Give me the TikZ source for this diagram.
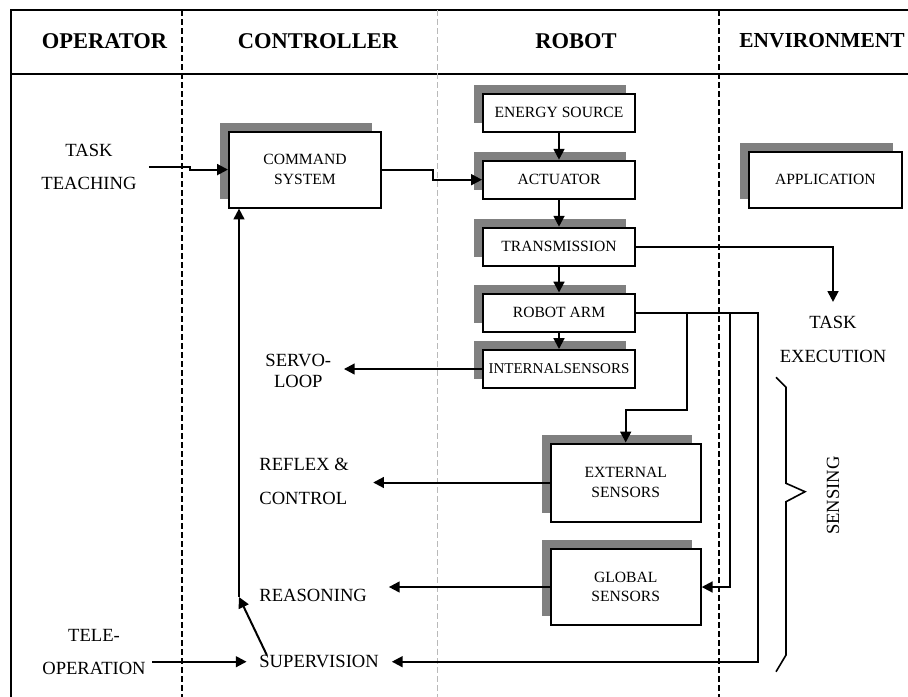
\documentclass[tikz,border=0pt]{standalone}
\usepackage{fontspec}
\setmainfont{Liberation Serif}
\usetikzlibrary{arrows.meta,shadows}
\tikzstyle{block} = [draw, line width=1pt, fill=white, minimum width=76pt, minimum height=19pt, inner sep=0pt, align=center, font=\fontsize{7.8}{9.7}\selectfont, drop shadow={shadow xshift=-4.5pt, shadow yshift=4.5pt, fill=gray, opacity=1}]
\tikzstyle{lbl} = [inner sep=0pt, align=center, font=\fontsize{9.3}{16.5}\selectfont]
\tikzstyle{head} = [font=\fontsize{11.25}{13}\selectfont\bfseries]
\tikzstyle{arr} = [line width=1pt, -{Triangle[length=5.4pt,width=5.4pt]}]
\tikzstyle{lane} = [line width=0.9pt, dash pattern=on 3pt off 1.5pt]

\begin{document}
\begin{tikzpicture}[x=0.5pt, y=-0.5pt]
    \useasboundingbox (0,0) rectangle (908,696);

    % table frame and lanes
    \draw[line width=1.2pt] (11,700) -- (11,10) -- (915,10);
    \draw[line width=1.2pt] (11,74) -- (915,74);
    \draw[lane] (181.7,10) -- (181.7,700);
    \draw[lane, gray!55, line width=0.7pt] (437.5,10) -- (437.5,700);
    \draw[lane] (719.3,10) -- (719.3,700);

    \node[head] (hop) at (104.5,41) {OPERATOR};
    \node[head] (hco) at (318,41) {CONTROLLER};
    \node[head] (hro) at (576,41) {ROBOT};
    \node[head, font=\fontsize{10.7}{13}\selectfont\bfseries] (hen) at (822,41) {ENVIRONMENT};

    % robot blocks
    \node[block] (energy) at (559,112.5) {ENERGY SOURCE};
    \node[block] (act) at (559,179.7) {ACTUATOR};
    \node[block] (trans) at (559,246.7) {TRANSMISSION};
    \node[block] (arm) at (559,312.5) {ROBOT ARM};
    \node[block, font=\fontsize{7.5}{9.7}\selectfont] (ins) at (559,369) {INTERNALSENSORS};
    \node[block, minimum width=75pt, minimum height=39pt] (ext) at (625.7,482.5) {EXTERNAL\\SENSORS};
    \node[block, minimum width=75pt, minimum height=38pt] (glob) at (625.7,587) {GLOBAL\\SENSORS};

    \node[block, minimum height=38pt] (cmd) at (305,169.6) {COMMAND\\SYSTEM};
    \node[block, minimum width=76.3pt, minimum height=28pt] (app) at (825.3,179.7) {APPLICATION};

    % labels
    \node[lbl] (teach) at (89,167) {TASK\\TEACHING};
    \node[lbl, font=\fontsize{9.3}{10.5}\selectfont] (servo) at (298.3,371.2) {SERVO-\\LOOP};
    \node[lbl, align=left, anchor=west, font=\fontsize{9.3}{17}\selectfont] (reflex) at (259,481.3) {REFLEX \&\\CONTROL};
    \node[lbl, anchor=west] (reason) at (259,595) {REASONING};
    \node[lbl, anchor=west] (superv) at (259,661.7) {SUPERVISION};
    \node[lbl] (teleop) at (94,651.7) {TELE-\\OPERATION};
    \node[lbl, font=\fontsize{9.3}{16.7}\selectfont] (exec) at (833,339.3) {TASK\\EXECUTION};
    \node[lbl, rotate=90] (sensing) at (833,495.7) {SENSING};
    \coordinate (bend) at (239,597);

    % connections
    \draw[arr] ([xshift=6pt]teach.east) -- ++(40.7,0) |- (cmd.west);
    \draw[arr] (cmd.east) -- ++(51.4,0) |- (act.west);
    \draw[arr] (energy) -- (act);
    \draw[arr] (act) -- (trans);
    \draw[arr] (trans) -- (arm);
    \draw[arr] (arm) -- (ins);
    \draw[arr] (trans.east) -| ([yshift=7pt]exec.north);
    \draw[arr] (arm.east) -- ++(50.7,0) -- ++(0,97.5) -| (ext.north);
    \draw[arr] (arm.east) -- ++(93.7,0) |- (glob.east);
    \draw[arr] (arm.east) -- ++(121.7,0) |- ([xshift=6.3pt]superv.east);
    \draw[arr] (ins.west) -- ([xshift=6.2pt]servo.east |- ins.west);
    \draw[arr] (ext.west) -- ([xshift=12pt]reflex.east |- ext.west);
    \draw[arr] (glob.west) -- ([xshift=10.8pt]reason.east |- glob.west);
    \draw[arr] ([xshift=3pt]teleop.east |- superv.west) -- ([xshift=-6.2pt]superv.west);
    \draw[arr] ([xshift=3.9pt]superv.north west) -- (bend);
    \draw[arr] (bend) -- (bend |- cmd.south);

    % sensing brace
    \draw[line width=0.8pt] (776,377.3) -- (786,387.3) -- (786,483.3) -- (805,491.7)
        -- (786,501.7) -- (786,655) -- (776,671.7);
\end{tikzpicture}
\end{document}
